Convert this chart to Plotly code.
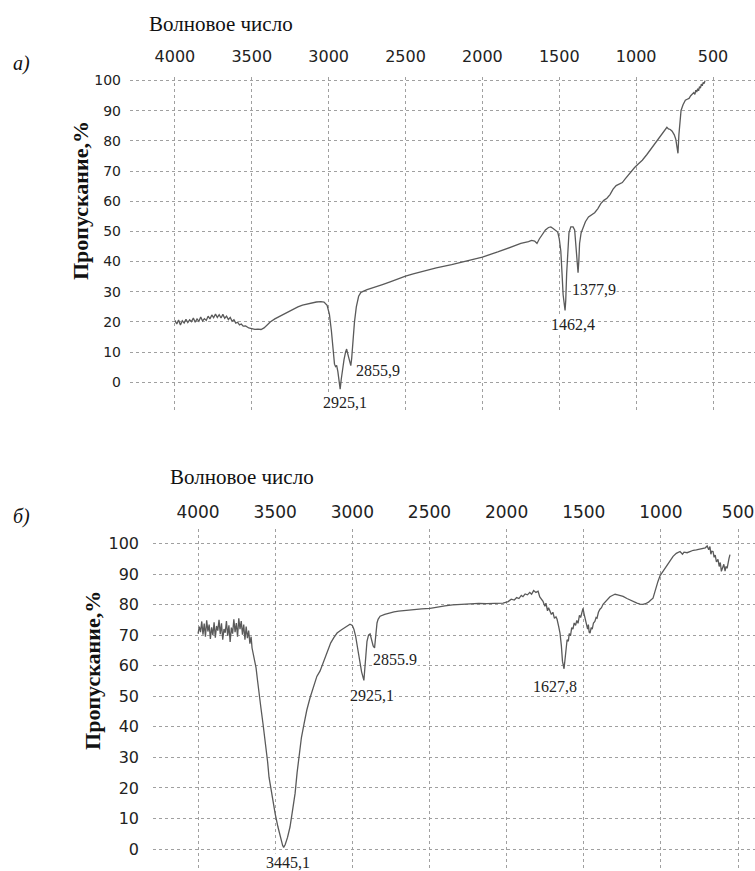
import plotly.graph_objects as go

# ---------------- Data: spectrum (а) ----------------
wn_a = [4000, 3988, 3976, 3964, 3952, 3940, 3928, 3916, 3904, 3892, 3880, 3868, 3856, 3844, 3832,
        3820, 3808, 3796, 3784, 3772, 3760, 3748, 3736, 3724, 3712, 3700, 3688, 3676, 3664, 3652,
        3640, 3628, 3616, 3604, 3592, 3580, 3568, 3556, 3540, 3520, 3500, 3480, 3460, 3440, 3420,
        3400, 3380, 3350, 3320, 3290, 3260, 3230, 3200, 3170, 3140, 3110, 3080, 3050, 3030, 3010,
        2995, 2982, 2972, 2962, 2955, 2948, 2940, 2933, 2925.1, 2918, 2910, 2900, 2890, 2883, 2876,
        2868, 2862, 2855.9, 2850, 2842, 2832, 2820, 2805, 2790, 2770, 2750, 2720, 2690, 2650, 2600,
        2550, 2500, 2450, 2400, 2300, 2200, 2100, 2000, 1900, 1850, 1800, 1750, 1700, 1680, 1660,
        1645, 1630, 1610, 1590, 1570, 1555, 1540, 1525, 1510, 1500, 1490, 1482, 1475, 1462.4, 1458,
        1452, 1445, 1437, 1425, 1410, 1400, 1393, 1387, 1377.9, 1373, 1368, 1358, 1345, 1330, 1310,
        1290, 1270, 1250, 1230, 1210, 1190, 1170, 1150, 1130, 1110, 1090, 1070, 1050, 1030, 1010,
        990, 960, 930, 900, 870, 850, 830, 810, 800, 790, 778, 766, 752, 742, 735, 728, 722, 716,
        708, 695, 680, 668, 656, 645, 635, 625, 618, 612, 606, 600, 594, 588, 582, 576, 570, 564,
        558, 552]
tr_a = [20.5, 19.3, 20.6, 19.0, 20.4, 19.6, 20.9, 19.8, 20.7, 20.1, 21.3, 19.9, 21.0, 20.2, 21.6,
        20.3, 21.1, 20.5, 21.9, 21.0, 22.3, 21.4, 22.6, 21.5, 22.4, 21.3, 22.5, 21.2, 21.9, 20.8,
        21.5, 20.2, 20.7, 19.6, 19.9, 19.0, 19.3, 18.6, 18.7, 18.0, 17.8, 17.5, 17.6, 17.5, 18.0,
        19.0, 20.0, 21.0, 21.8, 22.8, 23.6, 24.2, 25.0, 25.6, 26.0, 26.4, 26.6, 26.7, 26.6, 25.5,
        22.5, 17.0, 10.5, 6.0, 5.2, 5.6, 3.5, 0.5, -2.3, 1.0, 4.5, 7.5, 10.0, 11.0, 9.5,
        7.5, 6.0, 5.5, 8.0, 14.0, 20.0, 25.0, 28.5, 29.8, 30.3, 30.7, 31.2, 31.8, 32.4, 33.3,
        34.3, 35.2, 35.9, 36.6, 37.9, 39.0, 40.2, 41.5, 43.2, 44.2, 45.2, 46.0, 46.6, 47.0, 46.8,
        46.0, 47.5, 49.0, 50.5, 51.3, 51.5, 51.0, 50.5, 49.8, 47.5, 43.5, 36.0, 29.0, 23.8, 27.0,
        36.0, 44.0, 49.5, 51.5, 51.5, 50.5, 46.0, 40.0, 36.3, 40.0, 46.0, 49.5, 51.5, 53.2, 54.8,
        55.5, 56.2, 57.5, 59.2, 60.3, 61.0, 62.2, 64.0, 65.2, 65.6, 66.2, 67.5, 68.8, 70.2, 71.2,
        72.2, 73.6, 75.5, 77.5, 79.9, 81.2, 82.5, 83.6, 84.5, 84.0, 83.8, 83.2, 82.0, 80.5, 78.0, 75.9, 82.0, 87.0,
        90.1, 92.0, 93.5, 93.8, 94.1, 95.0, 95.6, 96.0, 95.4, 96.8, 96.2, 97.3, 96.6, 98.0, 97.5, 98.8, 98.3, 99.4,
        99.0, 100.0]

# ---------------- Data: spectrum (б) ----------------
wn_b = [4000, 3992, 3984, 3976, 3968, 3960, 3952, 3944, 3936, 3928, 3920, 3912, 3904, 3896, 3888,
        3880, 3872, 3864, 3856, 3848, 3840, 3832, 3824, 3816, 3808, 3800, 3792, 3784, 3776, 3768,
        3760, 3752, 3744, 3736, 3728, 3720, 3712, 3704, 3696, 3688, 3680, 3672, 3664, 3656, 3650,
        3640, 3624, 3614, 3605, 3592, 3579, 3569, 3559, 3549, 3540, 3527, 3514, 3500, 3482, 3465,
        3452, 3445.1, 3435, 3420, 3404, 3388, 3371, 3358, 3345, 3330, 3313, 3295, 3274, 3250, 3230,
        3209, 3185, 3164, 3140, 3120, 3099, 3070, 3040, 3015, 3000, 2990, 2978, 2968, 2960, 2950,
        2940, 2925.1, 2918, 2912, 2905, 2895, 2885, 2875, 2865, 2855.9, 2850, 2840, 2833, 2820, 2790,
        2760, 2730, 2700, 2650, 2600, 2550, 2496, 2450, 2400, 2350, 2283, 2230, 2180, 2130, 2080,
        2023, 1990, 1970, 1950, 1935, 1920, 1905, 1894, 1880, 1865, 1850, 1838, 1825, 1810, 1796,
        1785, 1775, 1764, 1752, 1745, 1735, 1728, 1719, 1710, 1700, 1690, 1680, 1673, 1663, 1654,
        1645, 1638, 1627.8, 1622, 1615, 1608, 1600, 1594, 1586, 1578, 1570, 1562, 1553, 1545, 1537,
        1528, 1520, 1512, 1505, 1498, 1490, 1482, 1475, 1470, 1465, 1459, 1452, 1445, 1437, 1428,
        1420, 1414, 1405, 1395, 1385, 1375, 1360, 1345, 1330, 1315, 1297, 1280, 1265, 1245, 1220,
        1200, 1180, 1155, 1135, 1116, 1100, 1080, 1065, 1051, 1040, 1030, 1019, 1005, 986, 965,
        945, 921, 900, 876, 860, 850, 830, 811, 790, 770, 750, 727, 712, 700, 690,
        682, 676, 670, 662, 655, 648, 640, 630, 622, 615, 608, 600, 592, 584, 578,
        571, 565, 558, 552]
tr_b = [70.5, 72.8, 71.0, 74.5, 70.2, 73.8, 69.5, 74.9, 71.2, 73.5, 68.8, 72.6, 70.0, 74.2, 69.2,
        73.0, 71.5, 75.0, 70.3, 73.9, 68.5, 72.0, 70.8, 74.6, 69.8, 73.2, 67.8, 72.5, 70.5, 75.2,
        71.0, 74.0, 69.5, 75.5, 72.0, 74.6, 70.2, 73.5, 68.5, 72.8, 69.0, 71.5, 67.2, 69.5, 65.8,
        63.5, 59.3, 55.0, 50.8, 46.0, 41.0, 37.0, 33.2, 28.5, 23.5, 19.5, 16.0, 11.5, 7.2, 3.5,
        1.2, 0.5, 1.5, 3.8, 7.2, 12.5, 18.2, 25.0, 31.3, 36.5, 41.0, 45.5, 49.5, 53.5, 56.5,
        58.3, 61.5, 64.8, 67.5, 69.2, 70.7, 71.8, 72.8, 73.6, 73.2, 72.0, 69.5, 67.0, 64.0, 61.0,
        58.0, 55.2, 58.5, 63.5, 68.0, 70.0, 70.4, 68.5, 66.5, 65.8, 70.0, 74.0, 75.2, 76.2, 76.8,
        77.3, 77.6, 77.9, 78.2, 78.5, 78.6, 78.8, 79.3, 79.6, 79.9, 80.1, 80.3, 80.4, 80.3, 80.4,
        80.5, 81.0, 81.8, 81.5, 82.3, 82.0, 83.0, 82.6, 83.5, 83.2, 84.0, 83.4, 84.6, 84.0, 84.4,
        82.5, 81.8, 81.1, 79.5, 80.5, 78.0, 79.0, 77.9, 76.8, 77.5, 75.5, 76.0, 75.2, 73.0, 70.7,
        66.5, 61.5, 59.0, 62.0, 66.0, 68.5, 68.0, 70.5, 69.8, 72.5, 72.0, 74.0, 73.2, 74.8, 73.9,
        76.5, 75.8, 78.0, 78.8, 77.0, 75.5, 74.0, 72.0, 73.5, 71.0, 70.7, 72.5, 72.0, 74.0, 74.5,
        75.8, 75.6, 77.5, 78.5, 79.0, 80.1, 81.0, 82.0, 82.6, 83.0, 83.4, 83.2, 83.0, 82.7, 82.0,
        81.5, 81.0, 80.5, 80.2, 80.1, 80.3, 80.8, 81.5, 82.1, 84.0, 86.0, 87.6, 89.5, 90.9, 92.5,
        93.8, 95.8, 96.8, 97.4, 96.5, 97.2, 97.0, 97.4, 97.8, 97.9, 98.2, 98.4, 98.6, 99.2, 98.0,
        99.0, 96.5, 97.5, 97.4, 95.5, 96.2, 94.0, 94.8, 92.5, 93.8, 90.9, 92.0, 93.2, 91.0, 92.5,
        91.9, 94.0, 95.2, 96.4]

tick_x = [4000, 3500, 3000, 2500, 2000, 1500, 1000, 500]
tick_y = list(range(0, 101, 10))

peaks_a = [(2925.1, "2925,1", 5, -13), (2855.9, "2855,9", 27, -5),
           (1462.4, "1462,4", 8, -14), (1377.9, "1377,9", 16, -17)]
peaks_b = [(3445.1, "3445,1", 4, -15), (2925.1, "2925,1", 8, -15),
           (2855.9, "2855.9", 20, -11), (1627.8, "1627,8", -9, -18)]

x_title = "Волновое число"
y_title = "Пропускание,%"

W, H = 755, 871
SERIF = "Liberation Serif, Times New Roman, serif"
SANS = "DejaVu Sans, Verdana, sans-serif"
LINE = "#5a5a5a"
GRID = "#a0a0a0"

fig = go.Figure()
fig.add_trace(go.Scatter(x=wn_a, y=tr_a, mode="lines", line=dict(color=LINE, width=1.3),
                         xaxis="x", yaxis="y", showlegend=False, hoverinfo="skip"))
fig.add_trace(go.Scatter(x=wn_b, y=tr_b, mode="lines", line=dict(color=LINE, width=1.3),
                         xaxis="x2", yaxis="y2", showlegend=False, hoverinfo="skip"))


def xaxis(domain, rng, size, anchor, standoff):
    return dict(domain=domain, range=rng, side="top", tickmode="array", tickvals=tick_x,
                ticktext=[str(v) for v in tick_x], showgrid=True, gridcolor=GRID, griddash="dot",
                gridwidth=1, zeroline=False, showline=False, ticks="", ticklabelstandoff=standoff,
                tickfont=dict(family=SANS, size=size, color="#222"), anchor=anchor, fixedrange=True)


def yaxis(domain, rng, size, anchor, standoff):
    return dict(domain=domain, range=rng, tickmode="array", tickvals=tick_y,
                showgrid=True, gridcolor=GRID, griddash="dot", gridwidth=1, zeroline=False,
                showline=False, ticks="", ticklabelstandoff=standoff,
                tickfont=dict(family=SANS, size=size, color="#222"), anchor=anchor, fixedrange=True)


annotations = []


def nearest(wns, trs, w):
    i = min(range(len(wns)), key=lambda k: abs(wns[k] - w))
    return trs[i]


for w, txt, dx, dy in peaks_a:
    annotations.append(dict(x=w, y=nearest(wn_a, tr_a, w), xref="x", yref="y", text=txt,
                            showarrow=False, xshift=dx, yshift=dy, bgcolor="white", borderpad=0,
                            font=dict(family=SERIF, size=16, color="#222")))
for w, txt, dx, dy in peaks_b:
    annotations.append(dict(x=w, y=nearest(wn_b, tr_b, w), xref="x2", yref="y2", text=txt,
                            showarrow=False, xshift=dx, yshift=dy, bgcolor="white", borderpad=0,
                            font=dict(family=SERIF, size=16, color="#222")))

# titles and panel letters
for cx, cy in [(221, 20), (242, 475)]:
    annotations.append(dict(x=cx / W, y=1 - cy / H, xref="paper", yref="paper", text=x_title,
                            showarrow=False, xanchor="center", yanchor="middle",
                            font=dict(family=SERIF, size=21, color="#111")))
for cx, cy in [(80, 198), (93, 670)]:
    annotations.append(dict(x=cx / W, y=1 - cy / H, xref="paper", yref="paper", text=y_title,
                            showarrow=False, xanchor="center", yanchor="middle", textangle=-90,
                            font=dict(family=SERIF, size=22, color="#111", weight="bold")))
for txt, cx, cy in [("а)", 21, 60), ("б)", 21, 515)]:
    annotations.append(dict(x=cx / W, y=1 - cy / H, xref="paper", yref="paper", text=txt,
                            showarrow=False, xanchor="center", yanchor="middle",
                            font=dict(family=SERIF, size=20, color="#111", style="italic")))

fig.update_layout(
    width=W, height=H, margin=dict(l=0, r=0, t=0, b=0, pad=0),
    paper_bgcolor="white", plot_bgcolor="white", showlegend=False,
    xaxis=xaxis([130 / W, 1.0], [4292, 227], 16, "y", 10),
    yaxis=yaxis([1 - 410 / H, 1 - 73 / H], [-9.9, 101.3], 14, "x", 8),
    xaxis2=xaxis([153 / W, 1.0], [4292, 390], 17, "y2", 6),
    yaxis2=yaxis([0.0, 1 - 527 / H], [-7.2, 104.9], 16, "x2", 13),
    annotations=annotations,
)

fig.write_html("out.html")
